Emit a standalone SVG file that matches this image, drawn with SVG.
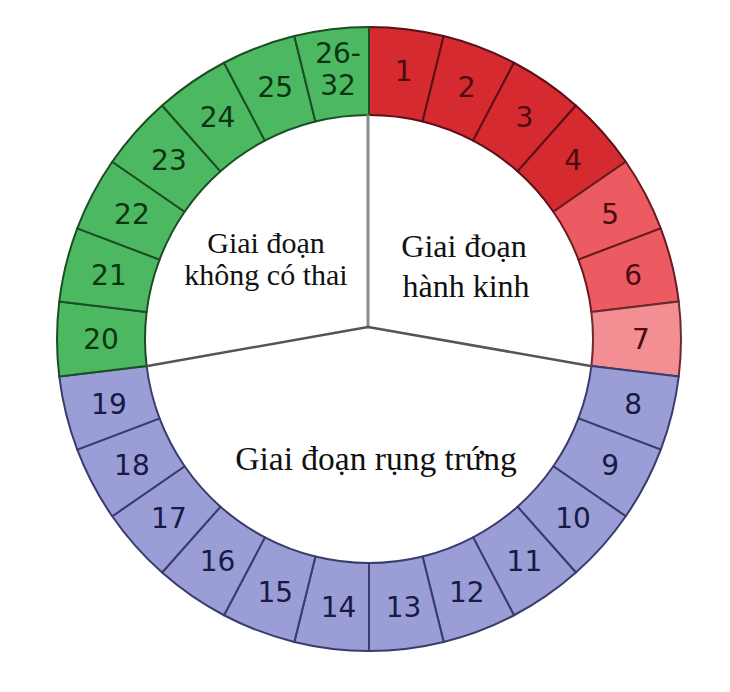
<svg xmlns="http://www.w3.org/2000/svg" width="730" height="692" viewBox="0 0 730 692">
<style>
.seg{stroke-width:2;stroke-linejoin:round}
.r1{fill:#d52a30;stroke:#5a1016}
.r2{fill:#eb5b61;stroke:#6a1a1e}
.r3{fill:#f38f93;stroke:#6a2a2e}
.g{fill:#4db862;stroke:#1a4f22}
.b{fill:#9b9dd6;stroke:#3a3c6e}
.n{font-family:"DejaVu Sans",Verdana,sans-serif;font-size:28px;text-anchor:middle}
.nr{fill:#4a0c10}
.ng{fill:#0a3512}
.nb{fill:#161a44}
.c{font-family:"Liberation Serif","Times New Roman",serif;fill:#111;text-anchor:middle}
.div{stroke-linecap:round;fill:none}
</style>
<rect width="730" height="692" fill="#ffffff"/>
<g id="seg-1"><path class="seg r1" d="M369,27 A312,312 0 0 1 443.67,36.07 L422.61,121.51 A224,224 0 0 0 369,115 Z"/><text class="n nr" x="403.6" y="81.2">1</text></g>
<g id="seg-2"><path class="seg r1" d="M443.67,36.07 A312,312 0 0 1 513.99,62.74 L473.10,140.66 A224,224 0 0 0 422.61,121.51 Z"/><text class="n nr" x="466.7" y="96.7">2</text></g>
<g id="seg-3"><path class="seg r1" d="M513.99,62.74 A312,312 0 0 1 575.90,105.47 L517.54,171.33 A224,224 0 0 0 473.10,140.66 Z"/><text class="n nr" x="524.4" y="127.0">3</text></g>
<g id="seg-4"><path class="seg r1" d="M575.90,105.47 A312,312 0 0 1 625.77,161.76 L553.35,211.75 A224,224 0 0 0 517.54,171.33 Z"/><text class="n nr" x="573.1" y="170.2">4</text></g>
<g id="seg-5"><path class="seg r2" d="M625.77,161.76 A312,312 0 0 1 660.73,228.36 L578.44,259.57 A224,224 0 0 0 553.35,211.75 Z"/><text class="n nr" x="610.1" y="223.7">5</text></g>
<g id="seg-6"><path class="seg r2" d="M660.73,228.36 A312,312 0 0 1 678.72,301.39 L591.37,312.00 A224,224 0 0 0 578.44,259.57 Z"/><text class="n nr" x="633.2" y="284.6">6</text></g>
<g id="seg-7"><path class="seg r3" d="M678.72,301.39 A312,312 0 0 1 678.72,376.61 L591.37,366.00 A224,224 0 0 0 591.37,312.00 Z"/><text class="n nr" x="641" y="349.2">7</text></g>
<g id="seg-8"><path class="seg b" d="M678.72,376.61 A312,312 0 0 1 660.73,449.64 L578.44,418.43 A224,224 0 0 0 591.37,366.00 Z"/><text class="n nb" x="633.2" y="413.8">8</text></g>
<g id="seg-9"><path class="seg b" d="M660.73,449.64 A312,312 0 0 1 625.77,516.24 L553.35,466.25 A224,224 0 0 0 578.44,418.43 Z"/><text class="n nb" x="610.1" y="474.7">9</text></g>
<g id="seg-10"><path class="seg b" d="M625.77,516.24 A312,312 0 0 1 575.90,572.53 L517.54,506.67 A224,224 0 0 0 553.35,466.25 Z"/><text class="n nb" x="573.1" y="528.2">10</text></g>
<g id="seg-11"><path class="seg b" d="M575.90,572.53 A312,312 0 0 1 513.99,615.26 L473.10,537.34 A224,224 0 0 0 517.54,506.67 Z"/><text class="n nb" x="524.4" y="571.4">11</text></g>
<g id="seg-12"><path class="seg b" d="M513.99,615.26 A312,312 0 0 1 443.67,641.93 L422.61,556.49 A224,224 0 0 0 473.10,537.34 Z"/><text class="n nb" x="466.7" y="601.7">12</text></g>
<g id="seg-13"><path class="seg b" d="M443.67,641.93 A312,312 0 0 1 369,651 L369,563 A224,224 0 0 0 422.61,556.49 Z"/><text class="n nb" x="403.6" y="617.2">13</text></g>
<g id="seg-14"><path class="seg b" d="M369,651 A312,312 0 0 1 294.33,641.93 L315.39,556.49 A224,224 0 0 0 369,563 Z"/><text class="n nb" x="338.5" y="617.2">14</text></g>
<g id="seg-15"><path class="seg b" d="M294.33,641.93 A312,312 0 0 1 224.01,615.26 L264.90,537.34 A224,224 0 0 0 315.39,556.49 Z"/><text class="n nb" x="275.3" y="601.7">15</text></g>
<g id="seg-16"><path class="seg b" d="M224.01,615.26 A312,312 0 0 1 162.10,572.53 L220.46,506.67 A224,224 0 0 0 264.90,537.34 Z"/><text class="n nb" x="217.6" y="571.4">16</text></g>
<g id="seg-17"><path class="seg b" d="M162.10,572.53 A312,312 0 0 1 112.23,516.24 L184.65,466.25 A224,224 0 0 0 220.46,506.67 Z"/><text class="n nb" x="168.9" y="528.2">17</text></g>
<g id="seg-18"><path class="seg b" d="M112.23,516.24 A312,312 0 0 1 77.27,449.64 L159.56,418.43 A224,224 0 0 0 184.65,466.25 Z"/><text class="n nb" x="131.9" y="474.7">18</text></g>
<g id="seg-19"><path class="seg b" d="M77.27,449.64 A312,312 0 0 1 59.28,376.61 L146.63,366.00 A224,224 0 0 0 159.56,418.43 Z"/><text class="n nb" x="108.9" y="413.8">19</text></g>
<g id="seg-20"><path class="seg g" d="M59.28,376.61 A312,312 0 0 1 59.28,301.39 L146.63,312.00 A224,224 0 0 0 146.63,366.00 Z"/><text class="n ng" x="101" y="349.2">20</text></g>
<g id="seg-21"><path class="seg g" d="M59.28,301.39 A312,312 0 0 1 77.27,228.36 L159.56,259.57 A224,224 0 0 0 146.63,312.00 Z"/><text class="n ng" x="108.9" y="284.6">21</text></g>
<g id="seg-22"><path class="seg g" d="M77.27,228.36 A312,312 0 0 1 112.23,161.76 L184.65,211.75 A224,224 0 0 0 159.56,259.57 Z"/><text class="n ng" x="131.9" y="223.7">22</text></g>
<g id="seg-23"><path class="seg g" d="M112.23,161.76 A312,312 0 0 1 162.10,105.47 L220.46,171.33 A224,224 0 0 0 184.65,211.75 Z"/><text class="n ng" x="168.9" y="170.2">23</text></g>
<g id="seg-24"><path class="seg g" d="M162.10,105.47 A312,312 0 0 1 224.01,62.74 L264.90,140.66 A224,224 0 0 0 220.46,171.33 Z"/><text class="n ng" x="217.6" y="127.0">24</text></g>
<g id="seg-25"><path class="seg g" d="M224.01,62.74 A312,312 0 0 1 294.33,36.07 L315.39,121.51 A224,224 0 0 0 264.90,140.66 Z"/><text class="n ng" x="275.3" y="96.7">25</text></g>
<g id="seg-26-32"><path class="seg g" d="M294.33,36.07 A312,312 0 0 1 369,27 L369,115 A224,224 0 0 0 315.39,121.51 Z"/><text class="n ng" x="338" y="63.2">26-</text><text class="n ng" x="338" y="95.2">32</text></g>
<g id="connectors">
<line class="div" x1="368" y1="116" x2="368" y2="327" stroke="#8c8c8c" stroke-width="3"/>
<line class="div" x1="368" y1="327" x2="147.5" y2="366" stroke="#555" stroke-width="2.5"/>
<line class="div" x1="368" y1="327" x2="590.5" y2="366" stroke="#555" stroke-width="2.5"/>
</g>
<g id="phase-menstrual"><text class="c" font-size="32" x="464" y="257">Giai đoạn</text><text class="c" font-size="32" x="466" y="297">hành kinh</text></g>
<g id="phase-nonpregnant"><text class="c" font-size="30" x="266" y="253">Giai đoạn</text><text class="c" font-size="30" x="266" y="285">không có thai</text></g>
<g id="phase-ovulation"><text class="c" font-size="33.5" x="376" y="470">Giai đoạn rụng trứng</text></g>
</svg>
